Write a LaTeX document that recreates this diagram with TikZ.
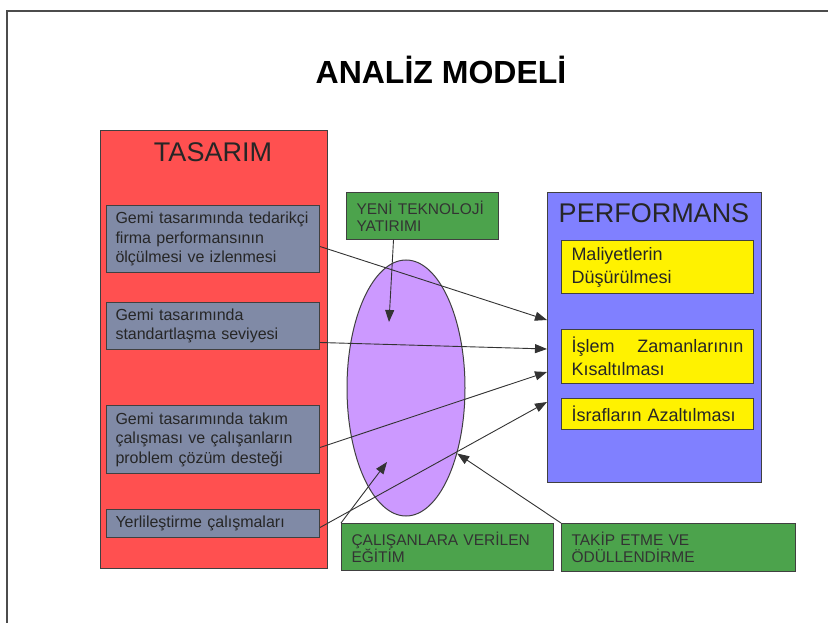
\documentclass[tikz,border=0pt]{standalone}
\usepackage{fontspec}
\setmainfont{Liberation Sans}
\usetikzlibrary{shapes.geometric,arrows.meta}
\definecolor{tasred}{RGB}{255,80,80}
\definecolor{gri}{RGB}{128,138,166}
\definecolor{mor}{RGB}{204,153,255}
\definecolor{yesil}{RGB}{76,163,76}
\definecolor{mavi}{RGB}{128,128,255}
\newcommand\baslikyazi{\fontsize{32}{38}\selectfont\bfseries}
\newcommand\panelyazi{\fontsize{27}{32}\selectfont}
\newcommand\griyazi{\fontsize{16}{19.5}\selectfont}
\newcommand\sariyazi{\fontsize{18}{23}\selectfont}
\newcommand\yesilyazi{\fontsize{15.5}{17}\selectfont}
\tikzset{kutu/.style={draw=black!75, line width=1pt, anchor=north west, inner sep=0pt},
  gribox/.style={kutu, fill=gri, inner xsep=9pt, text width=195pt, align=left, font=\griyazi, text=black!85},
  saribox/.style={kutu, fill=yellow, inner xsep=10pt, text width=172pt, align=left, font=\sariyazi, text=black!85},
  yesilbox/.style={kutu, fill=yesil, inner xsep=10pt, align=left, font=\yesilyazi, text=black!80},
  ok/.style={-{Triangle[length=12pt,width=9pt]}, draw=black!80, line width=0.9pt}}

\begin{document}
\begin{tikzpicture}[x=1pt, y=-1pt]
   \useasboundingbox (0,0) rectangle (828,623);
   \draw[black!70, line width=2pt] (7,623) -- (7,11) -- (828,11);
   \node[font=\baslikyazi] (baslik) at (441,70) {ANALİZ MODELİ};
   % TASARIM
   \begin{scope}
    \node[kutu, fill=tasred, minimum width=227pt, minimum height=438pt] (tasarim) at (100,130) {};
    \node[font=\panelyazi, text=black!85] (tasarimlbl) at (213,152) {TASARIM};
    \node[gribox, minimum height=67pt] (g1) at (106,205) {Gemi tasarımında tedarikçi\\firma performansının\\ölçülmesi ve izlenmesi};
    \node[gribox, minimum height=47pt] (g2) at (106,302) {Gemi tasarımında\\standartlaşma seviyesi};
    \node[gribox, minimum height=68pt] (g3) at (106,405) {Gemi tasarımında takım\\çalışması ve çalışanların\\problem çözüm desteği};
    \node[gribox, minimum height=28pt] (g4) at (106,509) {Yerlileştirme çalışmaları};
   \end{scope}
   % PERFORMANS
   \begin{scope}
    \node[kutu, fill=mavi, minimum width=214pt, minimum height=290pt] (perf) at (547,192) {};
    \node[font=\panelyazi, text=black!85] (perflbl) at (654,213) {PERFORMANS};
    \node[saribox, minimum height=53pt] (s1) at (561,240) {Maliyetlerin\\Düşürülmesi};
    \node[saribox, minimum height=54pt] (s2) at (561,329) {İşlem\hfill Zamanlarının\\Kısaltılması};
    \node[saribox, minimum height=31pt] (s3) at (561,398) {İsrafların Azaltılması};
   \end{scope}
   \node[ellipse, draw=black!75, line width=1pt, fill=mor, minimum width=118pt, minimum height=256pt, inner sep=0pt] (elips) at (406,388) {};
   \node[yesilbox, text width=132pt, minimum height=47pt] (yeni) at (346,192) {YENİ TEKNOLOJİ\\YATIRIMI};
   \node[yesilbox, text width=192pt, minimum height=47pt] (egitim) at (341,523) {ÇALIŞANLARA VERİLEN\\EĞİTİM};
   \node[yesilbox, text width=214pt, minimum height=48pt] (takip) at (561,523) {TAKİP ETME VE\\ÖDÜLLENDİRME};
   % oklar
   \draw[ok] ([yshift=-7.5pt]g1.east) -- ([yshift=-128pt]perf.north west);
   \draw[ok] ([yshift=-16.5pt]g2.east) -- ([yshift=-157pt]perf.north west);
   \draw[ok] ([yshift=-8pt]g3.east) -- ([yshift=-180pt]perf.north west);
   \draw[ok] ([yshift=-4pt]g4.east) -- ([yshift=-210pt]perf.north west);
   \draw[ok] ([xshift=-29pt]yeni.south) -- ([xshift=-17pt,yshift=66pt]elips.center);
   \draw[ok] (egitim.north west) -- ([xshift=-19pt,yshift=-74pt]elips.center);
   \draw[ok] (takip.north west) -- (elips.-52);
\end{tikzpicture}
\end{document}
